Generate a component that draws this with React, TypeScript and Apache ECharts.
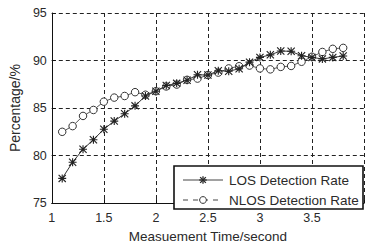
import React, { useEffect, useRef } from "react";
import * as echarts from "echarts";

const times = [1.1, 1.2, 1.3, 1.4, 1.5, 1.6, 1.7, 1.8, 1.9, 2.0, 2.1, 2.2, 2.3, 2.4, 2.5, 2.6, 2.7, 2.8, 2.9, 3.0, 3.1, 3.2, 3.3, 3.4, 3.5, 3.6, 3.7, 3.8];
const losRate = [77.6, 79.3, 80.67, 81.67, 82.77, 83.63, 84.4, 85.23, 86.27, 86.77, 87.37, 87.6, 87.93, 88.5, 88.47, 88.93, 88.87, 89.13, 89.83, 90.33, 90.6, 91.0, 90.97, 90.5, 90.33, 90.17, 90.33, 90.47];
const nlosRate = [82.5, 83.1, 84.17, 84.8, 85.67, 86.1, 86.27, 86.67, 86.4, 86.77, 87.27, 87.47, 87.97, 88.1, 88.47, 88.73, 89.17, 89.4, 89.47, 89.17, 89.07, 89.33, 89.43, 89.87, 90.4, 90.9, 91.23, 91.33];
const seriesNames = ["LOS Detection Rate", "NLOS Detection Rate"];
const xAxisTitle = "Measuement Time/second";
const yAxisTitle = "Percentage/%";

const STAR =
  "path://M4.3 0H5.7V10H4.3Z M0 4.3H10V5.7H0Z M1 0L10 9L9 10L0 1Z M9 0L10 1L1 10L0 9Z";

const FONT = "'Liberation Sans', Arial, Helvetica, sans-serif";
const INK = "#2a2a2a";

export default function App() {
  const ref = useRef<HTMLDivElement>(null);
  useEffect(() => {
    if (!ref.current) return;
    const chart = echarts.init(ref.current, undefined, { renderer: "svg" });
    const lx = 174, ly = 166, lw = 189, lh = 43;
    const starLines = (cx: number, cy: number) => {
      const r = 3.8;
      const d = r * 0.75;
      return [
        [cx - r, cy, cx + r, cy],
        [cx, cy - r, cx, cy + r],
        [cx - d, cy - d, cx + d, cy + d],
        [cx - d, cy + d, cx + d, cy - d],
      ].map((s) => ({
        type: "line",
        shape: { x1: s[0], y1: s[1], x2: s[2], y2: s[3] },
        style: { stroke: INK, lineWidth: 1.3 },
        z: 101,
      }));
    };
    chart.setOption({
      animation: false,
      backgroundColor: "#fff",
      textStyle: { fontFamily: FONT },
      grid: { left: 49, top: 13, width: 320, height: 200 },
      xAxis: {
        type: "value",
        min: 1,
        max: 4,
        interval: 0.5,
        name: xAxisTitle,
        nameLocation: "middle",
        nameGap: 23,
        nameTextStyle: { fontSize: 13.5, color: INK, fontFamily: FONT },
        axisLine: { lineStyle: { color: "#111", width: 1 } },
        axisTick: { inside: true, length: 4, lineStyle: { color: "#111" } },
        axisLabel: {
          margin: 8,
          fontSize: 12.5,
          color: INK,
          fontFamily: FONT,
          formatter: (v: number) => (v >= 4 ? "" : String(v)),
        },
        splitLine: { show: true, lineStyle: { color: "#222", type: [4, 3], width: 1 } },
      },
      yAxis: {
        type: "value",
        min: 75,
        max: 95,
        interval: 5,
        name: yAxisTitle,
        nameLocation: "middle",
        nameGap: 23,
        nameTextStyle: { fontSize: 14, color: INK, fontFamily: FONT },
        axisLine: { show: true, lineStyle: { color: "#111", width: 1 } },
        axisTick: { show: true, inside: true, length: 4, lineStyle: { color: "#111" } },
        axisLabel: { margin: 5, fontSize: 12.5, color: INK, fontFamily: FONT },
        splitLine: { show: true, lineStyle: { color: "#222", type: [4, 3], width: 1 } },
      },
      series: [
        {
          name: seriesNames[1],
          type: "line",
          data: times.map((t, i) => [t, nlosRate[i]]),
          symbol: "circle",
          symbolSize: 7.5,
          itemStyle: { color: "#fff", borderColor: "#333", borderWidth: 1 },
          lineStyle: { color: "#444", width: 0.9 },
          z: 3,
        },
        {
          name: seriesNames[0],
          type: "line",
          data: times.map((t, i) => [t, losRate[i]]),
          symbol: STAR,
          symbolSize: 8,
          itemStyle: { color: "#222" },
          lineStyle: { color: "#333", width: 1 },
          z: 4,
        },
      ],
      graphic: [
        {
          type: "rect",
          shape: { x: lx, y: ly, width: lw, height: lh },
          style: { fill: "#fff", stroke: "#111", lineWidth: 1.6 },
          z: 100,
        },
        {
          type: "line",
          shape: { x1: 183, y1: 180, x2: 223, y2: 180 },
          style: { stroke: "#444", lineWidth: 1 },
          z: 100,
        },
        ...starLines(203, 180),
        {
          type: "line",
          shape: { x1: 183, y1: 200, x2: 223, y2: 200 },
          style: { stroke: "#444", lineWidth: 1, lineDash: [5, 5] },
          z: 100,
        },
        {
          type: "circle",
          shape: { cx: 203, cy: 200, r: 3.4 },
          style: { fill: "#fff", stroke: "#333", lineWidth: 1 },
          z: 101,
        },
        {
          type: "text",
          x: 229,
          y: 180,
          style: { text: seriesNames[0], fontSize: 13.5, fill: INK, fontFamily: FONT, verticalAlign: "middle" },
          z: 101,
        },
        {
          type: "text",
          x: 229,
          y: 200,
          style: { text: seriesNames[1], fontSize: 13.5, fill: INK, fontFamily: FONT, verticalAlign: "middle" },
          z: 101,
        },
      ],
    });
    return () => chart.dispose();
  }, []);
  return (
    <div
      ref={ref}
      style={{ position: "absolute", left: 0, top: 0, width: 367, height: 248, background: "#fff" }}
    />
  );
}
